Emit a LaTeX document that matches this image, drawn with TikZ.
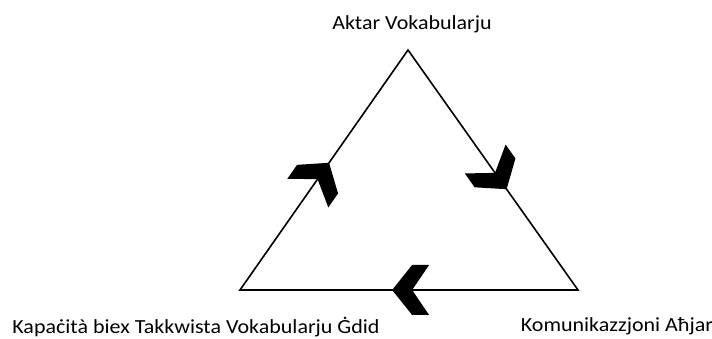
\documentclass[tikz,border=0pt]{standalone}
\usepackage{fontspec}
\setmainfont{Carlito}[FakeStretch=1.1]
\usetikzlibrary{decorations.markings}

\begin{document}
\begin{tikzpicture}[x=1pt, y=1pt, line width=1.6pt, line join=miter,
  cornertext/.style={font=\fontsize{20}{22}\selectfont, inner sep=0pt, anchor=base},
  chevron at/.style={postaction={decorate}, decoration={markings,
    mark=at position #1 with {\fill (0pt,0pt) -- (-20pt,25pt) -- (-37pt,25pt) -- (-20pt,0pt) -- (-37pt,-25pt) -- (-20pt,-25pt) -- cycle;}}}]

\useasboundingbox (0,0) rectangle (712,339);

% Triangle corners
\coordinate (top) at (408,289);
\coordinate (right) at (578,49);
\coordinate (left) at (240,49);

% Outline
\draw (top) -- (right) -- (left) -- cycle;

% Cycle arrows on each side
\path[chevron at=0.58] (top) -- (right);
\path[chevron at=0.55] (right) -- (left);
\path[chevron at=0.53] (left) -- (top);

% Corner labels
\node[cornertext] (more) at (412,309) {Aktar Vokabularju};
\node[cornertext] (skill) at (196,5) {Kapaċità biex Takkwista Vokabularju Ġdid};
\node[cornertext] (talk) at (617,7) {Komunikazzjoni Aħjar};

\end{tikzpicture}
\end{document}
